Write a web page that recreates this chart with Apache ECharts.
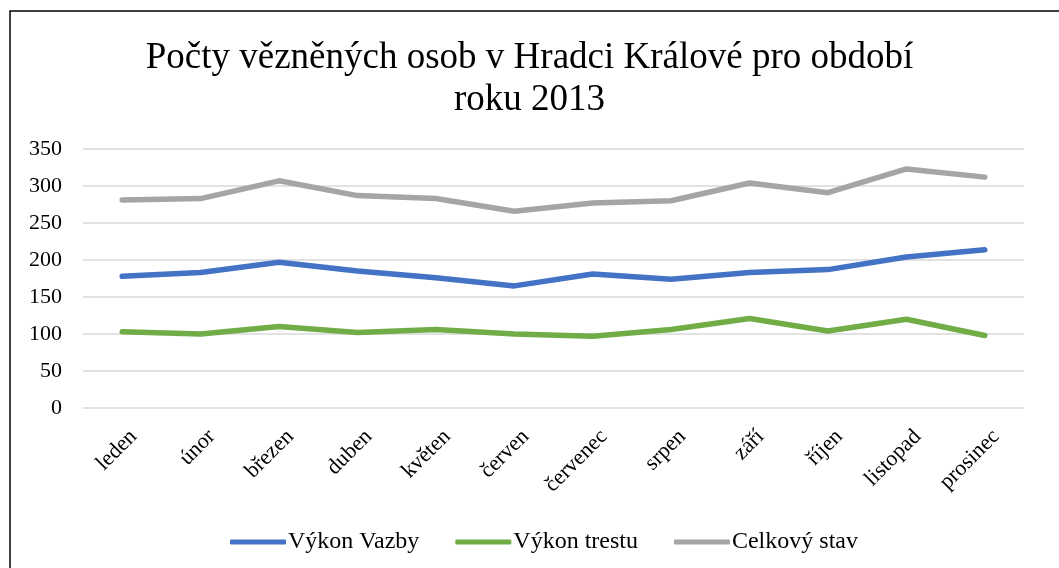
<!DOCTYPE html>
<html>
<head>
<meta charset="utf-8">
<script src="https://cdn.jsdelivr.net/npm/echarts@6/dist/echarts.min.js"></script>
<style>
    html, body { margin: 0; padding: 0; background: #fff; }
    #chart { width: 1059px; height: 568px; }
</style>
</head>
<body>
<div id="chart"></div>
<script>
const months = ['leden', 'únor', 'březen', 'duben', 'květen', 'červen',
    'červenec', 'srpen', 'září', 'říjen', 'listopad', 'prosinec'];

const vykonVazby = [178, 183, 197, 185, 176, 165, 181, 174, 183, 187, 204, 214];
const vykonTrestu = [103, 100, 110, 102, 106, 100, 97, 106, 121, 104, 120, 98];
const celkovyStav = [281, 283, 307, 287, 283, 266, 277, 280, 304, 291, 323, 312];

const seriesNames = ['Výkon Vazby', 'Výkon trestu', 'Celkový stav'];
const colors = ['#4472c4', '#70ad47', '#a5a5a5'];

const font = '"Liberation Serif", "Times New Roman", serif';

function lineSeries(name, data, color) {
    return {
        name,
        type: 'line',
        data,
        showSymbol: false,
        symbol: 'none',
        color,
        lineStyle: { width: 5.5, color, cap: 'round', join: 'round' },
        emphasis: { disabled: true },
    };
}

const chart = echarts.init(document.getElementById('chart'));

chart.setOption({
    animation: false,
    color: colors,
    title: {
        text: 'Počty vězněných osob v Hradci Králové pro období\nroku 2013',
        left: 'center',
        top: 32,
        textStyle: {
            fontFamily: font,
            fontSize: 37,
            fontWeight: 'normal',
            lineHeight: 42,
            color: '#000',
        },
    },
    legend: {
        bottom: 9,
        left: 225,
        icon: 'roundRect',
        itemWidth: 56,
        itemHeight: 5,
        itemGap: 36,
        textStyle: { fontFamily: font, fontSize: 24, color: '#000', padding: [0, 0, 0, -3] },
        data: seriesNames,
    },
    grid: { left: 83, right: 35, top: 149, bottom: 160 },
    xAxis: {
        type: 'category',
        data: months,
        boundaryGap: true,
        axisLine: { show: false },
        axisTick: { show: false },
        axisLabel: {
            rotate: 45,
            interval: 0,
            margin: 14,
            verticalAlign: 'top',
            lineHeight: 32,
            fontFamily: font,
            fontSize: 22,
            color: '#000',
        },
    },
    yAxis: {
        type: 'value',
        min: 0,
        max: 350,
        interval: 50,
        axisLine: { show: false },
        axisTick: { show: false },
        axisLabel: { margin: 21, fontFamily: font, fontSize: 22, color: '#000' },
        splitLine: { lineStyle: { color: '#d9d9d9', width: 1.5 } },
    },
    graphic: [{
        type: 'rect',
        shape: { x: 10, y: 11, width: 1100, height: 620 },
        style: { fill: 'none', stroke: '#000', lineWidth: 1.5 },
        silent: true,
    }],
    series: [
        lineSeries(seriesNames[0], vykonVazby, colors[0]),
        lineSeries(seriesNames[1], vykonTrestu, colors[1]),
        lineSeries(seriesNames[2], celkovyStav, colors[2]),
    ],
});
</script>
</body>
</html>
